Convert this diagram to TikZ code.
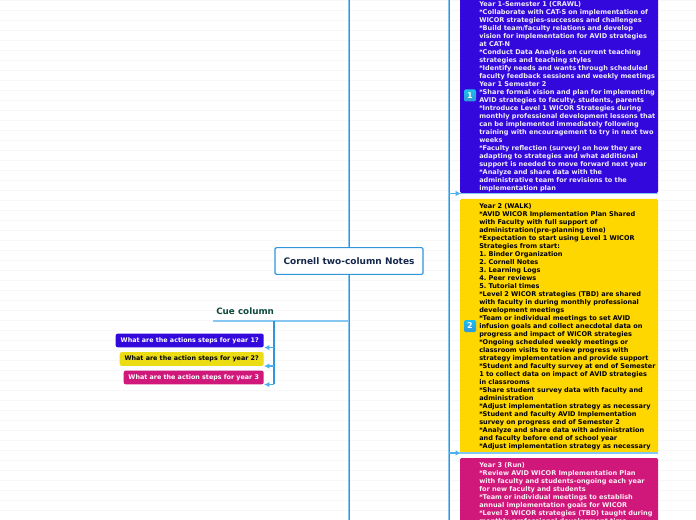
\documentclass[tikz,border=0pt]{standalone}
\usepackage{fontspec}
\setmainfont{DejaVu Sans}
\usetikzlibrary{arrows.meta}
\definecolor{linkblue}{HTML}{2F96DC}
\definecolor{linklight}{HTML}{85C6F2}
\definecolor{linktip}{HTML}{4DB0EE}
\definecolor{yearone}{HTML}{3208DC}
\definecolor{yeartwo}{HTML}{FFD700}
\definecolor{yearthree}{HTML}{D0187A}
\definecolor{cueyellow}{HTML}{EBDC14}
\definecolor{rowline}{HTML}{F6F7F6}
\definecolor{titleink}{HTML}{14284B}
\definecolor{cueink}{HTML}{0F4A3C}
\tikzset{
  yearbox/.style={rounded corners=1pt, inner sep=0pt},
  yeartext/.style={anchor=north west, align=left, text width=180pt, inner sep=0pt, font=\bfseries\fontsize{4.92pt}{6pt}\selectfont},
  cuebox/.style={rounded corners=1.5pt, anchor=east, font=\bfseries\fontsize{4.78pt}{6pt}\selectfont, inner sep=0pt, minimum height=10.2pt},
  numicon/.style={top color=linkblue!60!cyan, bottom color=linkblue, rounded corners=1pt, minimum size=9pt, inner sep=0pt, text=white, font=\bfseries\fontsize{6pt}{6pt}\selectfont},
  cuelink/.style={draw=linktip, line width=1pt, -{Latex[length=4pt,width=4pt]}},
  downlink/.style={draw=linkblue, line width=0.8pt},
}
\frenchspacing
\begin{document}
\begin{tikzpicture}[x=0.75pt,y=-0.75pt]
\useasboundingbox (0,0) rectangle (696,520);
\fill[white] (0,0) rectangle (696,520);
% faint rows of the page
\foreach \y in {0,10,...,520}
  \draw[rowline, line width=0.6pt] (0,\y+0.5) -- (696,\y+0.5);
% trunk lines
\coordinate (TopA) at (349.5,0);
\coordinate (BotA) at (349.5,520);
\coordinate (TopB) at (449.5,0);
\coordinate (BotB) at (449.5,520);
\draw[linklight, line width=1.2pt] (TopA) ++(-0.5,0) -- (349,520);
\draw[linklight, line width=1.2pt] (TopB) ++(-0.5,0) -- (449,520);
\draw[downlink] (TopA) -- (BotA);
\draw[downlink] (TopB) -- (BotB);
% right column
\fill[yearone, yearbox] (460,-6) rectangle (658,193);
\fill[yeartwo, yearbox] (460,199) rectangle (658,453);
\fill[yearthree, yearbox] (460,458) rectangle (658,530);
\coordinate (FootA) at (658,193.5);
\coordinate (FootB) at (658,453);
\draw[linklight, line width=1pt] (460,193.5) -- (FootA);
\draw[linklight, line width=1pt] (460,453) -- (FootB);
\draw[cuelink] (449,193.5) -- (461,193.5);
\draw[cuelink] (449,453) -- (461,453);
\node[yeartext, text=white!92!yearone] (YearOne) at (479,0.8) {Year 1-Semester 1 (CRAWL)\\
{*}Collaborate with CAT-S on implementation of\\
WICOR strategies-successes and challenges\\
{*}Build team/faculty relations and develop\\
vision for implementation for AVID strategies\\
at CAT-N\\
{*}Conduct Data Analysis on current teaching\\
strategies and teaching styles\\
{*}Identify needs and wants through scheduled\\
faculty feedback sessions and weekly meetings\\
Year 1 Semester 2\\
{*}Share formal vision and plan for implementing\\
AVID strategies to faculty, students, parents\\
{*}Introduce Level 1 WICOR Strategies during\\
monthly professional development lessons that\\
can be implemented immediately following\\
training with encouragement to try in next two\\
weeks\\
{*}Faculty reflection (survey) on how they are\\
adapting to strategies and what additional\\
support is needed to move forward next year\\
{*}Analyze and share data with the\\
administrative team for revisions to the\\
implementation plan};
\node[yeartext, text=black] (YearTwo) at (479,203) {Year 2 (WALK)\\
{*}AVID WICOR Implementation Plan Shared\\
with Faculty with full support of\\
administration(pre-planning time)\\
{*}Expectation to start using Level 1 WICOR\\
Strategies from start:\\
1. Binder Organization\\
2. Cornell Notes\\
3. Learning Logs\\
4. Peer reviews\\
5. Tutorial times\\
{*}Level 2 WICOR strategies (TBD) are shared\\
with faculty in during monthly professional\\
development meetings\\
{*}Team or individual meetings to set AVID\\
infusion goals and collect anecdotal data on\\
progress and impact of WICOR strategies\\
{*}Ongoing scheduled weekly meetings or\\
classroom visits to review progress with\\
strategy implementation and provide support\\
{*}Student and faculty survey at end of Semester\\
1 to collect data on impact of AVID strategies\\
in classrooms\\
{*}Share student survey data with faculty and\\
administration\\
{*}Adjust implementation strategy as necessary\\
{*}Student and faculty AVID Implementation\\
survey on progress end of Semester 2\\
{*}Analyze and share data with administration\\
and faculty before end of school year\\
{*}Adjust implementation strategy as necessary};
\node[yeartext, text=white!92!yearthree] (YearThree) at (479,462) {Year 3 (Run)\\
{*}Review AVID WICOR Implementation Plan\\
with faculty and students-ongoing each year\\
for new faculty and students\\
{*}Team or individual meetings to establish\\
annual implementation goals for WICOR\\
{*}Level 3 WICOR strategies (TBD) taught during\\
monthly professional development time};
\node[numicon] (IconOne) at (470,95.5) {1};
\node[numicon] (IconTwo) at (470,326) {2};
% centre and cue column
\node[draw=linkblue, fill=white, line width=0.8pt, rounded corners=1pt, minimum width=111pt, minimum height=20pt, inner sep=0pt, font=\bfseries\fontsize{6.75pt}{8pt}\selectfont, text=titleink] (Title) at (349,261) {Cornell two-column Notes};
\coordinate (CueEnd) at (213,321);
\coordinate (CueMid) at (349,321);
\coordinate (CueFork) at (274,321);
\draw[linklight, line width=1.1pt] (CueMid) -- (CueEnd);
\node[anchor=south west, inner sep=0pt, font=\bfseries\fontsize{6.6pt}{8pt}\selectfont, text=cueink] (Cue) at (216,314.5) {Cue column};
\node[cuebox, fill=yearone, text=white, minimum width=111pt] (AskOne) at (264,340.5) {What are the actions steps for year 1?};
\node[cuebox, fill=cueyellow, text=black, minimum width=108pt] (AskTwo) at (264,359) {What are the action steps for year 2?};
\node[cuebox, fill=yearthree, text=white, minimum width=105pt] (AskThree) at (264,377.5) {What are the action steps for year 3};
\draw[linkblue, line width=0.8pt] (CueFork) -- (274,384);
\draw[cuelink] (CueFork |- AskOne.south) -- (AskOne.south east);
\draw[cuelink] (CueFork |- AskTwo.south) -- (AskTwo.south east);
\draw[cuelink] (CueFork |- AskThree.south) -- (AskThree.south east);
\end{tikzpicture}
\end{document}
